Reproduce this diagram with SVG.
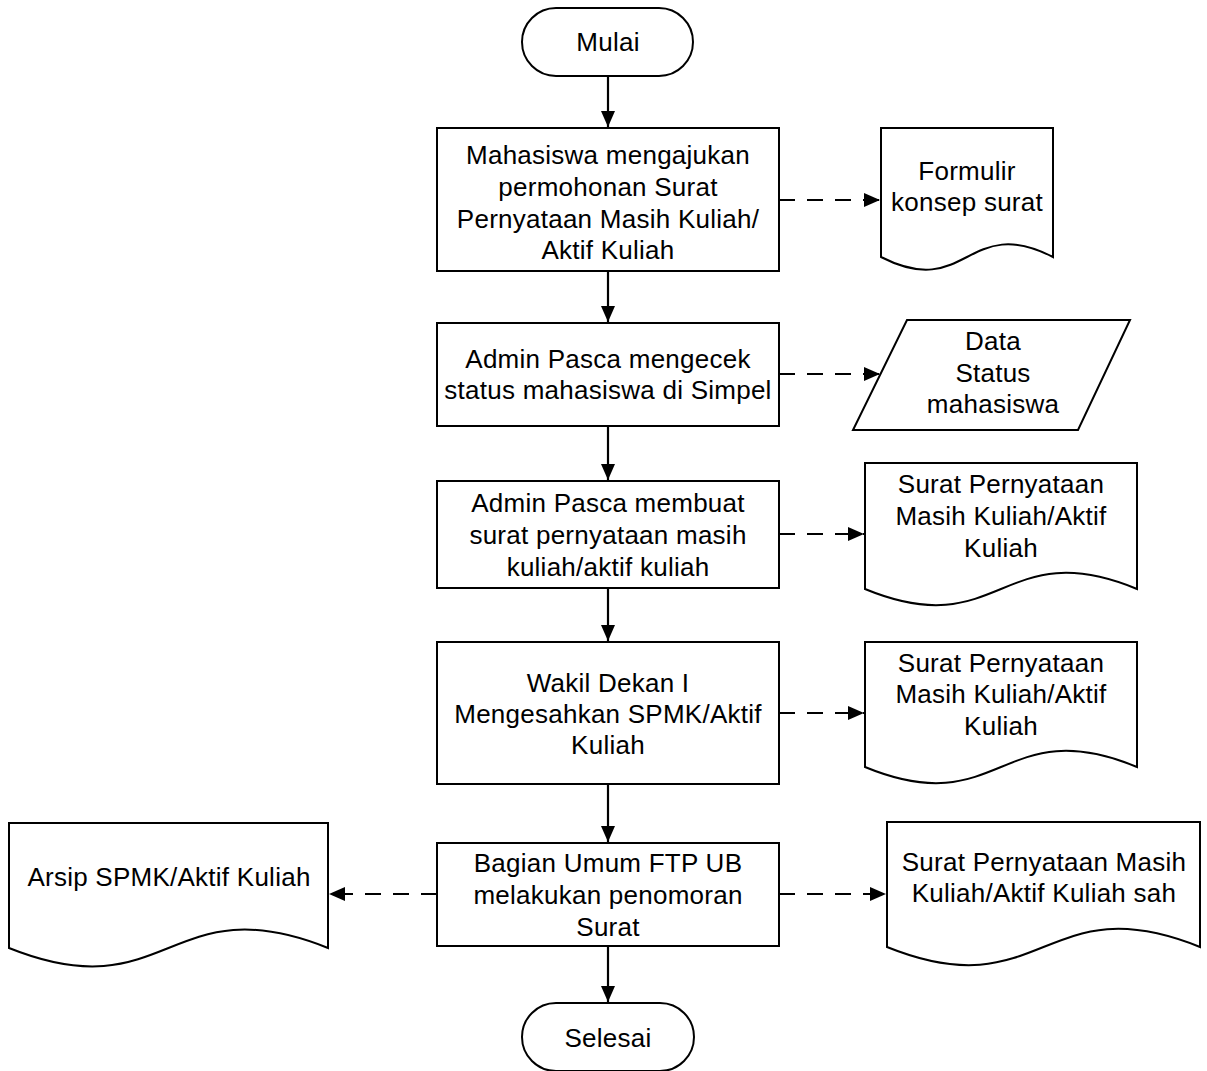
<svg xmlns="http://www.w3.org/2000/svg" width="1207" height="1071" viewBox="0 0 1207 1071">
<defs>
<style>
.shape{fill:#fff;stroke:#000;stroke-width:2}
.t{font-family:"Liberation Sans",Arial,sans-serif;font-size:26px;letter-spacing:0.25px;fill:#000;text-anchor:middle}
.flow{fill:none;stroke:#000;stroke-width:2.2}
.data{fill:none;stroke:#000;stroke-width:2;stroke-dasharray:16 12}
</style>
<marker id="arr" markerUnits="userSpaceOnUse" markerWidth="16" markerHeight="14" refX="16" refY="7" orient="auto">
<path d="M0,0 L16,7 L0,14 Z" fill="#000" stroke="none"/>
</marker>
</defs>
<rect width="1207" height="1071" fill="#fff"/>

<g id="connectors">
<line class="flow" x1="608" y1="76" x2="608" y2="127" marker-end="url(#arr)"/>
<line class="flow" x1="608" y1="271" x2="608" y2="322" marker-end="url(#arr)"/>
<line class="flow" x1="608" y1="426" x2="608" y2="480" marker-end="url(#arr)"/>
<line class="flow" x1="608" y1="588" x2="608" y2="641" marker-end="url(#arr)"/>
<line class="flow" x1="608" y1="784" x2="608" y2="842" marker-end="url(#arr)"/>
<line class="flow" x1="608" y1="946" x2="608" y2="1002" marker-end="url(#arr)"/>
<line class="data" x1="779" y1="200" x2="880" y2="200" marker-end="url(#arr)"/>
<line class="data" x1="779" y1="374" x2="880" y2="374" marker-end="url(#arr)"/>
<line class="data" x1="779" y1="534" x2="864" y2="534" marker-end="url(#arr)"/>
<line class="data" x1="779" y1="713" x2="864" y2="713" marker-end="url(#arr)"/>
<line class="data" x1="779" y1="894" x2="886" y2="894" marker-end="url(#arr)"/>
<line class="data" x1="437" y1="894" x2="329" y2="894" marker-end="url(#arr)"/>
</g>

<g id="mulai">
<rect class="shape" x="522" y="8" width="171" height="68" rx="34" ry="34"/>
<text class="t" x="608" y="51">Mulai</text>
</g>

<g id="p1">
<rect class="shape" x="437" y="128" width="342" height="143"/>
<text class="t" x="608" y="164">Mahasiswa mengajukan</text>
<text class="t" x="608" y="196">permohonan Surat</text>
<text class="t" x="608" y="228">Pernyataan Masih Kuliah/</text>
<text class="t" x="608" y="259">Aktif Kuliah</text>
</g>

<g id="d1">
<path class="shape" d="M881,128 H1053 V257 C967,213 967,301 881,257 Z"/>
<text class="t" x="967" y="180">Formulir</text>
<text class="t" x="967" y="211">konsep surat</text>
</g>

<g id="p2">
<rect class="shape" x="437" y="323" width="342" height="103"/>
<text class="t" x="608" y="368">Admin Pasca mengecek</text>
<text class="t" x="608" y="399">status mahasiswa di Simpel</text>
</g>

<g id="io1">
<path class="shape" d="M907,320 H1130 L1078,430 H853 Z"/>
<text class="t" x="993" y="350">Data</text>
<text class="t" x="993" y="382">Status</text>
<text class="t" x="993" y="413">mahasiswa</text>
</g>

<g id="p3">
<rect class="shape" x="437" y="481" width="342" height="107"/>
<text class="t" x="608" y="512">Admin Pasca membuat</text>
<text class="t" x="608" y="544">surat pernyataan masih</text>
<text class="t" x="608" y="576">kuliah/aktif kuliah</text>
</g>

<g id="d2">
<path class="shape" d="M865,463 H1137 V589 C1001,533 1001,645 865,589 Z"/>
<text class="t" x="1001" y="493">Surat Pernyataan</text>
<text class="t" x="1001" y="525">Masih Kuliah/Aktif</text>
<text class="t" x="1001" y="557">Kuliah</text>
</g>

<g id="p4">
<rect class="shape" x="437" y="642" width="342" height="142"/>
<text class="t" x="608" y="692">Wakil Dekan I</text>
<text class="t" x="608" y="723">Mengesahkan SPMK/Aktif</text>
<text class="t" x="608" y="754">Kuliah</text>
</g>

<g id="d3">
<path class="shape" d="M865,642 H1137 V767 C1001,711 1001,823 865,767 Z"/>
<text class="t" x="1001" y="672">Surat Pernyataan</text>
<text class="t" x="1001" y="703">Masih Kuliah/Aktif</text>
<text class="t" x="1001" y="735">Kuliah</text>
</g>

<g id="p5">
<rect class="shape" x="437" y="843" width="342" height="103"/>
<text class="t" x="608" y="872">Bagian Umum FTP UB</text>
<text class="t" x="608" y="904">melakukan penomoran</text>
<text class="t" x="608" y="936">Surat</text>
</g>

<g id="d4">
<path class="shape" d="M887,822 H1200 V947 C1043.5,884 1043.5,1010 887,947 Z"/>
<text class="t" x="1044" y="871">Surat Pernyataan Masih</text>
<text class="t" x="1044" y="902">Kuliah/Aktif Kuliah sah</text>
</g>

<g id="d5">
<path class="shape" d="M9,823 H328 V948 C168.5,884 168.5,1012 9,948 Z"/>
<text class="t" x="169" y="886">Arsip SPMK/Aktif Kuliah</text>
</g>

<g id="selesai">
<rect class="shape" x="522" y="1003" width="172" height="68" rx="34" ry="34"/>
<text class="t" x="608" y="1047">Selesai</text>
</g>
</svg>
